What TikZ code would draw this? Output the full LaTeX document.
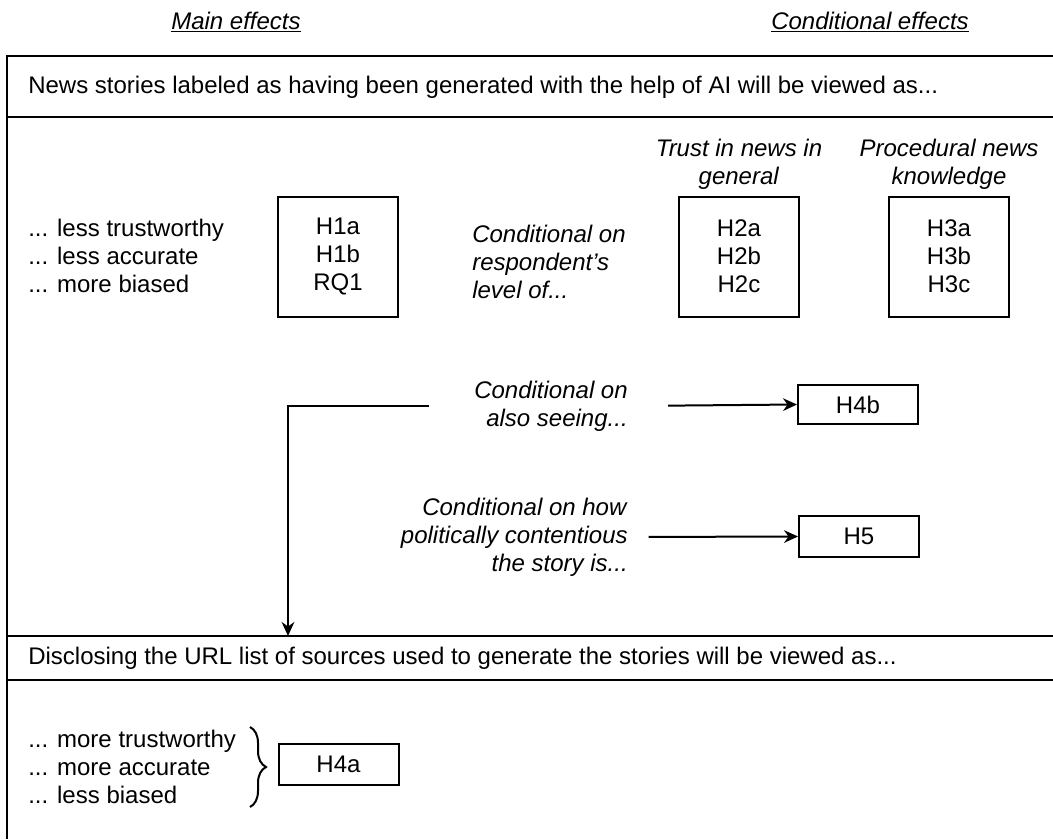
\documentclass[tikz,border=0pt]{standalone}
\usepackage{fontspec}
\setmainfont{Liberation Sans}
\usetikzlibrary{arrows.meta,decorations.pathreplacing}

\begin{document}
\begin{tikzpicture}[x=0.75pt,y=0.75pt,yscale=-1,xscale=1,
  every node/.style={font=\fontsize{18}{21}\selectfont},
  txt/.style={inner sep=0pt},
  hbox/.style={draw, line width=1.5pt, inner sep=0pt, align=center, minimum width=90pt},
  frame/.style={line width=1.5pt},
  conn/.style={line width=1.5pt, -{Stealth[length=10.5pt,width=9.5pt]}}]
\useasboundingbox (0,0) rectangle (1053,839);

%Shape: Frame
\draw [frame] (1053,56) -- (7,56) -- (7,839) ;
\draw [frame] (7,117) -- (1053,117) ;
\draw [frame] (7,636) -- (1053,636) ;
\draw [frame] (7,680) -- (1053,680) ;
\coordinate (disc) at (288,636) ;

% Text Node
\node [txt] (main) at (236,22) {\underline{\textit{Main effects}}};
% Text Node
\node [txt] (cond) at (870,22) {\underline{\textit{Conditional effects}}};
% Text Node
\node [txt, anchor=west] (head1) at (28,87) {News stories labeled as having been generated with the help of AI will be viewed as...};
% Text Node
\node [txt, anchor=west, align=left] (less) at (28,256) {... less trustworthy\\... less accurate\\... more biased};
% Text Node
\node [txt, anchor=west, align=left] (resp) at (472,262) {\textit{Conditional on}\\\textit{respondent's}\\\textit{level of...}};
% Text Node
\node [txt, align=center] (trust) at (739,164) {\textit{Trust in news in}\\\textit{general}};
% Text Node
\node [txt, align=center] (proc) at (949,164) {\textit{Procedural news}\\\textit{knowledge}};

%Shape: Rectangle
\node [hbox, minimum height=90pt] (h1) at (338,256.5) {H1a\\H1b\\RQ1};
%Shape: Rectangle
\node [hbox, minimum height=90pt] (h2) at (739,256.5) {H2a\\H2b\\H2c};
%Shape: Rectangle
\node [hbox, minimum height=90pt] (h3) at (949,256.5) {H3a\\H3b\\H3c};

% Text Node
\node [txt, anchor=east, align=right] (seen) at (628,406) {\textit{Conditional on}\\\textit{also seeing...}};
% Text Node
\node [txt, anchor=east, align=right] (pol) at (628,537) {\textit{Conditional on how}\\\textit{politically contentious}\\\textit{the story is...}};

%Shape: Rectangle
\node [hbox, minimum height=29.5pt] (h4b) at (858,404.5) {H4b};
%Shape: Rectangle
\node [hbox, minimum height=30.5pt] (h5) at (859,536.5) {H5};

%Arrows
\draw [conn, shorten <=30pt] (seen.east) -- (h4b.west) ;
\draw [conn, shorten <=15.5pt] (pol.east) -- (h5.west) ;
\draw [conn, shorten <=34pt] (seen.west) -| (disc) ;

% Text Node
\node [txt, anchor=west] (head2) at (28,658) {Disclosing the URL list of sources used to generate the stories will be viewed as...};
% Text Node
\node [txt, anchor=west, align=left] (more) at (28,767) {... more trustworthy\\... more accurate\\... less biased};
%Shape: Brace
\draw [line width=1.5pt, decorate, decoration={brace, amplitude=12pt}] (250,727) -- (250,807) ;
%Shape: Rectangle
\node [hbox, minimum height=30.5pt] (h4a) at (338.5,764.5) {H4a};

\end{tikzpicture}
\end{document}
